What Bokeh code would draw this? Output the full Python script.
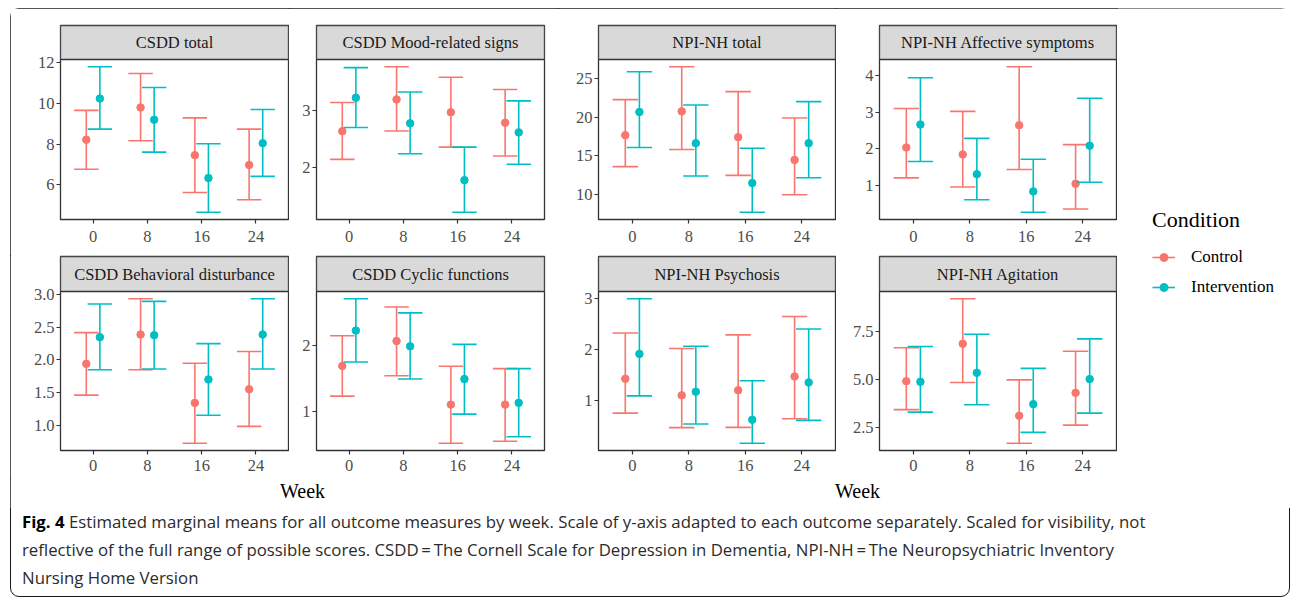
from bokeh.plotting import figure
from bokeh.models import (Range1d, FactorRange, FixedTicker, PrintfTickFormatter,
                          Legend, LegendItem, Div, ColumnDataSource, Label,
                          BoxAnnotation)
from bokeh.transform import dodge
from bokeh.layouts import row, column
from bokeh.embed import file_html
from bokeh.resources import INLINE

# ---------------- data ----------------
weeks = ["0", "8", "16", "24"]
conditions = ["Control", "Intervention"]
cond_colors = ["#F8766D", "#00BFC4"]

# CSDD total
csdd_total_ctrl_mean = [8.22, 9.80, 7.46, 6.98]
csdd_total_ctrl_lo = [6.77, 8.17, 5.63, 5.27]
csdd_total_ctrl_hi = [9.66, 11.47, 9.29, 8.74]
csdd_total_int_mean = [10.24, 9.20, 6.34, 8.05]
csdd_total_int_lo = [8.74, 7.61, 4.66, 6.42]
csdd_total_int_hi = [11.80, 10.78, 8.02, 9.70]

# CSDD Mood-related signs
csdd_mood_ctrl_mean = [2.63, 3.19, 2.965, 2.78]
csdd_mood_ctrl_lo = [2.135, 2.635, 2.35, 2.195]
csdd_mood_ctrl_hi = [3.135, 3.765, 3.58, 3.365]
csdd_mood_int_mean = [3.22, 2.77, 1.77, 2.61]
csdd_mood_int_lo = [2.695, 2.235, 1.205, 2.05]
csdd_mood_int_hi = [3.75, 3.32, 2.35, 3.165]

# CSDD Behavioral disturbance
csdd_behav_ctrl_mean = [1.94, 2.39, 1.34, 1.55]
csdd_behav_ctrl_lo = [1.46, 1.85, 0.72, 0.98]
csdd_behav_ctrl_hi = [2.42, 2.94, 1.95, 2.13]
csdd_behav_int_mean = [2.35, 2.38, 1.70, 2.39]
csdd_behav_int_lo = [1.85, 1.86, 1.15, 1.86]
csdd_behav_int_hi = [2.86, 2.90, 2.25, 2.94]

# CSDD Cyclic functions
csdd_cyclic_ctrl_mean = [1.69, 2.07, 1.10, 1.10]
csdd_cyclic_ctrl_lo = [1.23, 1.54, 0.51, 0.54]
csdd_cyclic_ctrl_hi = [2.15, 2.59, 1.685, 1.65]
csdd_cyclic_int_mean = [2.23, 1.99, 1.49, 1.127]
csdd_cyclic_int_lo = [1.75, 1.49, 0.955, 0.61]
csdd_cyclic_int_hi = [2.716, 2.50, 2.02, 1.65]

# NPI-NH total
npi_total_ctrl_mean = [17.67, 20.75, 17.41, 14.47]
npi_total_ctrl_lo = [13.60, 15.81, 12.47, 9.96]
npi_total_ctrl_hi = [22.27, 26.52, 23.31, 19.89]
npi_total_int_mean = [20.67, 16.63, 11.48, 16.63]
npi_total_int_lo = [16.07, 12.39, 7.70, 12.17]
npi_total_int_hi = [25.87, 21.58, 15.98, 22.01]

# NPI-NH Affective symptoms
npi_affect_ctrl_mean = [2.03, 1.84, 2.64, 1.04]
npi_affect_ctrl_lo = [1.20, 0.95, 1.43, 0.35]
npi_affect_ctrl_hi = [3.10, 3.02, 4.24, 2.11]
npi_affect_int_mean = [2.66, 1.30, 0.83, 2.08]
npi_affect_int_lo = [1.65, 0.60, 0.26, 1.08]
npi_affect_int_hi = [3.94, 2.28, 1.71, 3.38]

# NPI-NH Psychosis
npi_psych_ctrl_mean = [1.425, 1.10, 1.20, 1.47]
npi_psych_ctrl_lo = [0.75, 0.464, 0.47, 0.64]
npi_psych_ctrl_hi = [2.327, 2.02, 2.29, 2.65]
npi_psych_int_mean = [1.915, 1.17, 0.62, 1.353]
npi_psych_int_lo = [1.09, 0.536, 0.157, 0.608]
npi_psych_int_hi = [3.00, 2.065, 1.386, 2.405]

# NPI-NH Agitation
npi_agit_ctrl_mean = [4.90, 6.86, 3.09, 4.29]
npi_agit_ctrl_lo = [3.41, 4.83, 1.65, 2.60]
npi_agit_ctrl_hi = [6.65, 9.22, 4.97, 6.47]
npi_agit_int_mean = [4.87, 5.34, 3.70, 5.01]
npi_agit_int_lo = [3.28, 3.67, 2.22, 3.23]
npi_agit_int_hi = [6.72, 7.36, 5.57, 7.12]

panel_titles = ["CSDD total", "CSDD Mood-related signs",
                "CSDD Behavioral disturbance", "CSDD Cyclic functions",
                "NPI-NH total", "NPI-NH Affective symptoms",
                "NPI-NH Psychosis", "NPI-NH Agitation"]

csdd_total_ticks = [6, 8, 10, 12]
csdd_mood_ticks = [2, 3]
csdd_behav_ticks = [1.0, 1.5, 2.0, 2.5, 3.0]
csdd_cyclic_ticks = [1, 2]
npi_total_ticks = [10, 15, 20, 25]
npi_affect_ticks = [1, 2, 3, 4]
npi_psych_ticks = [1, 2, 3]
npi_agit_ticks = [2.5, 5.0, 7.5]

x_label = "Week"
legend_title = "Condition"
caption_label = "Fig. 4"
caption_lines = [
    "Estimated marginal means for all outcome measures by week. Scale of y-axis adapted to each outcome separately. Scaled for visibility, not",
    "reflective of the full range of possible scores. CSDD\u2009=\u2009The Cornell Scale for Depression in Dementia, NPI-NH\u2009=\u2009The Neuropsychiatric Inventory",
    "Nursing Home Version",
]

# ---------------- styling ----------------
SERIF = "Liberation Serif"
DARK = "#333333"
LABEL_COLOR = "#4D4D4D"
DODGE = 0.125
CAP = 0.225
LW = 1.6
FONT_PX = "16.5px"


def panel_fig(title, series, ticks, fmt, fw, strip_h, panel_h, lb, rb, tb, bb,
              xstand):
    xr = FactorRange(factors=weeks, range_padding=0.1,
                     range_padding_units="absolute")
    lo = min(min(s[1]) for s in series)
    hi = max(max(s[2]) for s in series)
    pad = 0.05 * (hi - lo)
    y0, y1 = lo - pad, hi + pad
    strip_span = (y1 - y0) * strip_h / panel_h
    yr = Range1d(y0, y1 + strip_span)
    p = figure(x_range=xr, y_range=yr, frame_width=fw,
               frame_height=strip_h + panel_h,
               min_border_left=lb, min_border_right=rb,
               min_border_top=tb, min_border_bottom=bb,
               toolbar_location=None, output_backend="svg", title=None)
    p.xgrid.visible = False
    p.ygrid.visible = False
    p.background_fill_color = "white"
    p.outline_line_color = DARK
    p.outline_line_width = 1.3
    for ax in (p.xaxis[0], p.yaxis[0]):
        ax.axis_line_color = None
        ax.major_tick_line_color = DARK
        ax.major_tick_line_width = 1.2
        ax.major_tick_out = 4
        ax.major_tick_in = 0
        ax.minor_tick_line_color = None
        ax.major_label_text_font = SERIF
        ax.major_label_text_font_size = FONT_PX
        ax.major_label_text_color = LABEL_COLOR
    p.xaxis.major_label_standoff = xstand
    p.yaxis.major_label_standoff = 2
    p.yaxis.ticker = FixedTicker(ticks=ticks)
    p.yaxis.formatter = PrintfTickFormatter(format=fmt)

    for (mean, low, high), off, col in zip(series, [-DODGE, DODGE], cond_colors):
        src = ColumnDataSource(dict(week=weeks, mean=mean, lo=low, hi=high))
        xc = dodge("week", off, range=xr)
        xl = dodge("week", off - CAP, range=xr)
        xh = dodge("week", off + CAP, range=xr)
        p.segment(x0=xc, y0="lo", x1=xc, y1="hi", source=src,
                  line_color=col, line_width=LW)
        p.segment(x0=xl, y0="hi", x1=xh, y1="hi", source=src,
                  line_color=col, line_width=LW)
        p.segment(x0=xl, y0="lo", x1=xh, y1="lo", source=src,
                  line_color=col, line_width=LW)
        p.scatter(x=xc, y="mean", source=src, size=7.5, fill_color=col,
                  line_color=col)

    # facet strip on top of the panel
    p.add_layout(BoxAnnotation(bottom=y1, fill_color="#D9D9D9", fill_alpha=1.0,
                               line_color=DARK, line_width=1.3, line_alpha=1.0))
    p.add_layout(Label(x=len(weeks) / 2, y=y1 + strip_span / 2, text=title,
                       text_align="center", text_baseline="middle",
                       text_font=SERIF, text_font_size=FONT_PX,
                       text_color="#1A1A1A"))
    return p


def week_fig(fw, lb, rb, h):
    w = figure(height=h, frame_width=fw, min_border_left=lb,
               min_border_right=rb, min_border_top=0, min_border_bottom=0,
               x_axis_location=None, y_axis_location=None,
               x_range=Range1d(0, 1), y_range=Range1d(0, 1),
               toolbar_location=None, output_backend="svg", title=None)
    w.outline_line_color = None
    w.grid.visible = False
    w.add_layout(Label(x=0.5, y=0.6, text=x_label, text_align="center",
                       text_baseline="middle", text_font=SERIF,
                       text_font_size="20px", text_color="black"))
    return w


S = [
    ((csdd_total_ctrl_mean, csdd_total_ctrl_lo, csdd_total_ctrl_hi),
     (csdd_total_int_mean, csdd_total_int_lo, csdd_total_int_hi)),
    ((csdd_mood_ctrl_mean, csdd_mood_ctrl_lo, csdd_mood_ctrl_hi),
     (csdd_mood_int_mean, csdd_mood_int_lo, csdd_mood_int_hi)),
    ((csdd_behav_ctrl_mean, csdd_behav_ctrl_lo, csdd_behav_ctrl_hi),
     (csdd_behav_int_mean, csdd_behav_int_lo, csdd_behav_int_hi)),
    ((csdd_cyclic_ctrl_mean, csdd_cyclic_ctrl_lo, csdd_cyclic_ctrl_hi),
     (csdd_cyclic_int_mean, csdd_cyclic_int_lo, csdd_cyclic_int_hi)),
    ((npi_total_ctrl_mean, npi_total_ctrl_lo, npi_total_ctrl_hi),
     (npi_total_int_mean, npi_total_int_lo, npi_total_int_hi)),
    ((npi_affect_ctrl_mean, npi_affect_ctrl_lo, npi_affect_ctrl_hi),
     (npi_affect_int_mean, npi_affect_int_lo, npi_affect_int_hi)),
    ((npi_psych_ctrl_mean, npi_psych_ctrl_lo, npi_psych_ctrl_hi),
     (npi_psych_int_mean, npi_psych_int_lo, npi_psych_int_hi)),
    ((npi_agit_ctrl_mean, npi_agit_ctrl_lo, npi_agit_ctrl_hi),
     (npi_agit_int_mean, npi_agit_int_lo, npi_agit_int_hi)),
]
TICKS = [csdd_total_ticks, csdd_mood_ticks, csdd_behav_ticks, csdd_cyclic_ticks,
         npi_total_ticks, npi_affect_ticks, npi_psych_ticks, npi_agit_ticks]
FMTS = ["%d", "%d", "%.1f", "%d", "%d", "%d", "%d", "%.1f"]

# column geometry: (frame width, left border, right border)
COLS = [(228, 50, 1), (228, 27, 14), (237, 40, 1), (237, 43, 1)]
ROW1 = [0, 1, 4, 5]   # CSDD total, Mood, NPI total, Affective
ROW2 = [2, 3, 6, 7]   # Behavioral, Cyclic, Psychosis, Agitation

panels1, panels2 = [], []
for c, (i1, i2) in enumerate(zip(ROW1, ROW2)):
    fw, lb, rb = COLS[c]
    panels1.append(panel_fig(panel_titles[i1], S[i1], TICKS[i1], FMTS[i1],
                             fw, 34, 160, lb, rb, 17, 36, 7))
    panels2.append(panel_fig(panel_titles[i2], S[i2], TICKS[i2], FMTS[i2],
                             fw, 35, 159, lb, rb, 1, 28, 5))

left_group = column(row(panels1[0], panels1[1]), row(panels2[0], panels2[1]),
                    week_fig(484, 50, 14, 30))
right_group = column(row(panels1[2], panels1[3]), row(panels2[2], panels2[3]),
                     week_fig(518, 40, 1, 30))

# legend figure (hidden renderers only provide the legend glyphs)
lg = figure(width=173, height=500, min_border=0,
            x_axis_location=None, y_axis_location=None,
            x_range=FactorRange(factors=weeks), y_range=Range1d(0, 1),
            toolbar_location=None, output_backend="svg", title=None)
lg.outline_line_color = None
lg.grid.visible = False
items = []
for cond, col, (mean, _, _) in zip(conditions, cond_colors, S[0]):
    src = ColumnDataSource(dict(week=weeks, mean=mean))
    lr = lg.line("week", "mean", source=src, line_color=col, line_width=LW,
                 visible=False)
    sr = lg.scatter("week", "mean", source=src, size=7.5, fill_color=col,
                    line_color=col, visible=False)
    items.append(LegendItem(label=cond, renderers=[lr, sr]))
legend = Legend(items=items, title=legend_title, location=(35, 211),
                padding=0, margin=0, spacing=10, glyph_width=23,
                glyph_height=20, label_standoff=16, title_standoff=14,
                border_line_color=None, background_fill_alpha=0,
                title_text_font=SERIF, title_text_font_size="22px",
                title_text_font_style="normal", title_text_color="black",
                label_text_font=SERIF, label_text_font_size="17px",
                label_text_color="black")
lg.add_layout(legend)

caption_html = ("<b style='color:#000'>" + caption_label + "</b> "
                + "<br>".join(caption_lines))
caption = Div(text=caption_html, width=1268, height=89, margin=(0, 0, 0, 12),
              styles={"font-family": "Open Sans", "font-size": "16.8px",
                      "line-height": "28px", "color": "#2B2B2B",
                      "white-space": "nowrap"})

root = column(row(left_group, right_group, lg), caption,
              margin=(8, 0, 0, 10),
              styles={"outline": "1.3px solid #1A1A1A",
                      "outline-offset": "-1.3px",
                      "border-radius": "9px"})

open("out.html", "w").write(file_html(root, INLINE))
